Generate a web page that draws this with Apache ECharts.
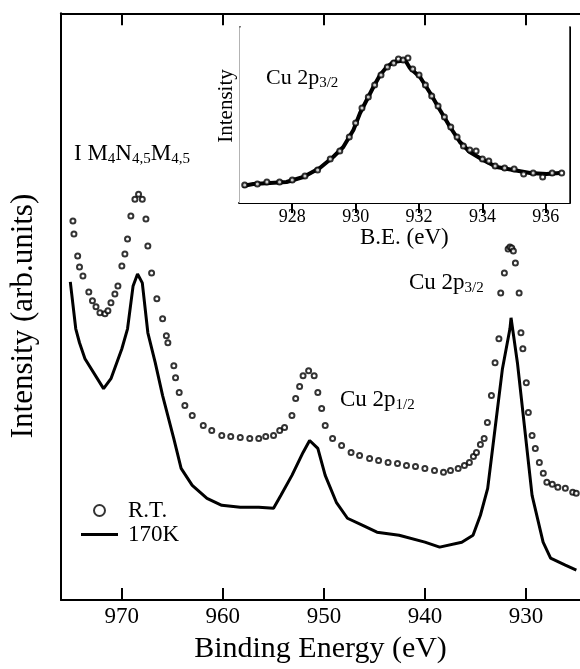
<!DOCTYPE html>
<html>
<head>
<meta charset="utf-8">
<script src="https://cdn.jsdelivr.net/npm/echarts@6/dist/echarts.min.js"></script>
<style>html,body{margin:0;padding:0;background:#fff}#c{width:580px;height:669px}</style>
</head>
<body>
<div id="c"></div>
<script>
// ---- Main panel data (Binding energy in eV, intensity in arb. units) ----
const energy170K = [975.08,974.54,974.17,973.63,971.79,971.06,969.98,969.42,968.87,968.43,967.96,967.41,966.68,965.95,964.85,964.12,963.02,961.56,960.10,958.27,956.44,954.98,954.25,953.16,952.06,951.41,950.60,949.87,948.77,947.67,946.21,944.75,942.56,940.01,938.55,936.36,935.25,934.52,933.80,933.07,932.34,931.60,931.49,930.86,930.14,929.41,928.32,927.58,926.12,925.03];
const intensity170K = [319,272,258,242,212,222,252,272,315,327,318,268,238,205,162,132,115,102,95,93,93,92,105,125,148,160,152,125,98,82,75,68,65,58,53,58,65,85,112,172,232,272,283,238,172,105,58,42,35,30];

const energyRT = [974.82,974.72,974.35,974.17,973.83,973.25,972.89,972.54,972.15,971.65,971.36,971.06,970.67,970.37,969.98,969.68,969.42,969.09,968.69,968.33,967.96,967.60,967.41,967.04,966.52,965.95,965.58,965.43,964.84,964.67,964.31,963.75,963.02,961.93,961.09,960.10,959.21,958.27,957.33,956.44,955.75,954.98,954.37,953.89,953.16,952.79,952.40,952.06,951.51,950.96,950.60,950.22,949.87,949.14,948.25,947.31,946.47,945.48,944.59,943.65,942.72,941.83,940.94,940.01,939.06,938.17,937.48,936.72,936.10,935.61,935.21,934.91,934.52,934.15,933.83,933.43,933.07,932.69,932.51,932.15,931.78,931.60,931.42,931.26,931.06,930.69,930.51,930.32,929.98,929.78,929.41,929.09,928.69,928.30,927.95,927.41,926.86,926.12,925.39,925.04];
const intensityRT = [380,367,345,334,325,309,300,294,288,287,290,298,307,315,335,347,362,385,402,407,402,382,355,328,302,282,265,258,235,223,208,195,185,175,170,165,164,163,162,162,164,165,170,173,185,202,214,225,230,225,208,192,175,162,155,148,145,142,140,138,137,135,134,132,130,128,130,132,135,138,144,148,156,162,178,205,238,262,308,328,352,354,353,350,338,308,268,252,218,188,165,152,138,127,118,116,113,112,108,107];

// ---- Inset data (Cu 2p3/2 region) ----
const insetEnergy170K = [926.44,926.77,927.30,927.82,928.35,928.87,929.29,929.61,929.93,930.14,930.35,930.56,930.77,930.98,931.19,931.40,931.56,931.71,932.03,932.35,932.66,932.98,933.29,933.60,934.02,934.45,934.97,935.50,936.02,936.44];
const insetIntensity170K = [17,19,20,21,26,35,46,56,73,90,103,116,128,136,141,142,143,135,126,110,93,76,61,51,43,36,33,30,29,30];
const insetEnergyRT = [926.5,926.9,927.2,927.6,928.0,928.4,928.8,929.2,929.5,929.8,930.0,930.2,930.4,930.6,930.8,931.0,931.2,931.35,931.5,931.65,931.8,932.0,932.2,932.4,932.6,932.8,933.0,933.2,933.4,933.6,933.8,934.0,934.2,934.4,934.7,935.0,935.3,935.6,935.9,936.2,936.5];
const insetIntensityRT = [18,19,21,21,23,27,33,44,52,66,80,95,106,118,128,136,140,144,143,145,134,128,118,107,97,86,76,66,57,53,52,44,42,37,35,34,29,30,26,30,30];

// ---- Tick labels ----
const mainTicks = [970,960,950,940,930];
const insetTicks = [928,930,932,934,936];
const insetYTicks = [58,126];

const zip = (a,b) => a.map((v,i)=>[v,b[i]]);
const FONT = '"Liberation Serif","Times New Roman",serif';

const chart = echarts.init(document.getElementById('c'), null, {renderer:'canvas'});
const axisLineStyle = {show:true, lineStyle:{color:'#000', width:2}};

chart.setOption({
  backgroundColor:'#fff',
  animation:false,
  textStyle:{fontFamily:FONT, color:'#000'},
  grid:[
    {left:61, top:13.3, right:0, bottom:67.3, containLabel:false},
    {left:239.3, top:27.3, width:330, height:175.7, show:true, backgroundColor:'#fff', borderWidth:0, z:5}
  ],
  legend:{
    left:76, top:494, orient:'vertical',
    itemWidth:37, itemHeight:11, itemGap:1,
    textStyle:{fontFamily:FONT, fontSize:23, color:'#000', padding:[0,0,0,5], lineHeight:22},
    data:[{name:'R.T.', icon:'emptyCircle'},
          {name:'170K', icon:'path://M0,0 L37,0 L37,3 L0,3 Z', itemStyle:{color:'#000'}}]
  },
  xAxis:[
    {gridIndex:0, type:'value', min:924.67, max:976, inverse:true, position:'bottom',
     axisLine:axisLineStyle, splitLine:{show:false},
     axisTick:{show:true, inside:true, length:12, customValues:mainTicks, lineStyle:{color:'#000',width:2}},
     axisLabel:{customValues:mainTicks, fontFamily:FONT, fontSize:23, color:'#000', margin:5},
     name:'Binding Energy (eV)', nameLocation:'middle', nameGap:34,
     nameTextStyle:{fontFamily:FONT, fontSize:30, color:'#000'}},
    {gridIndex:0, type:'value', min:924.67, max:976, inverse:true, position:'top',
     axisLine:axisLineStyle, splitLine:{show:false},
     axisTick:{show:true, inside:true, length:12, customValues:mainTicks, lineStyle:{color:'#000',width:2}},
     axisLabel:{show:false}},
    {gridIndex:1, type:'value', min:926.33, max:936.74, position:'bottom',
     axisLine:axisLineStyle, splitLine:{show:false},
     axisTick:{show:true, inside:true, length:10, customValues:insetTicks, lineStyle:{color:'#000',width:2}},
     axisLabel:{customValues:insetTicks, fontFamily:FONT, fontSize:18, color:'#000', margin:5},
     name:'B.E. (eV)', nameLocation:'middle', nameGap:20,
     nameTextStyle:{fontFamily:FONT, fontSize:23, color:'#000', verticalAlign:'top'}},
    {gridIndex:1, type:'value', min:926.33, max:936.74, position:'top',
     axisLine:axisLineStyle, splitLine:{show:false},
     axisTick:{show:true, inside:true, length:10, customValues:insetTicks, lineStyle:{color:'#000',width:2}},
     axisLabel:{show:false}}
  ],
  yAxis:[
    {gridIndex:0, type:'value', min:0, max:588.4, position:'left',
     axisLine:axisLineStyle, axisTick:{show:false}, axisLabel:{show:false}, splitLine:{show:false}},
    {gridIndex:1, type:'value', min:0, max:175.7, position:'left',
     axisLine:axisLineStyle, splitLine:{show:false},
     axisTick:{show:true, inside:true, length:5, customValues:insetYTicks, lineStyle:{color:'#000',width:1}},
     axisLabel:{show:false}},
    {gridIndex:1, type:'value', min:0, max:175.7, position:'right',
     axisLine:axisLineStyle, splitLine:{show:false},
     axisTick:{show:true, inside:true, length:5, customValues:insetYTicks, lineStyle:{color:'#000',width:1}},
     axisLabel:{show:false}}
  ],
  series:[
    {name:'R.T.', type:'scatter', xAxisIndex:0, yAxisIndex:0, data:zip(energyRT,intensityRT),
     symbol:'emptyCircle', symbolSize:5, itemStyle:{color:'#000', borderWidth:1}, z:3},
    {name:'170K', type:'line', xAxisIndex:0, yAxisIndex:0, data:zip(energy170K,intensity170K),
     showSymbol:false, symbol:'none', lineStyle:{color:'#000', width:3}, itemStyle:{color:'#000'}, z:2},
    {name:'170K', type:'line', xAxisIndex:2, yAxisIndex:1, data:zip(insetEnergy170K,insetIntensity170K),
     showSymbol:false, symbol:'none', lineStyle:{color:'#000', width:4}, itemStyle:{color:'#000'}, z:6},
    {name:'R.T.', type:'scatter', xAxisIndex:2, yAxisIndex:1, data:zip(insetEnergyRT,insetIntensityRT),
     symbol:'emptyCircle', symbolSize:5, itemStyle:{color:'#000', borderWidth:1}, z:7}
  ],
  graphic:[
    {type:'text', x:24, y:316, rotation:Math.PI/2, z:10,
     style:{text:'Intensity (arb.units)', font:'31px '+FONT, fill:'#000', align:'center', verticalAlign:'middle'}},
    {type:'text', x:226, y:106, rotation:Math.PI/2, z:10,
     style:{text:'Intensity', font:'21px '+FONT, fill:'#000', align:'center', verticalAlign:'middle'}},
    {type:'text', x:74, y:141, z:10,
     style:{text:'{m|I M}{s|4}{m|N}{s|4,5}{m|M}{s|4,5}', fill:'#000',
       rich:{m:{fontFamily:FONT, fontSize:23, lineHeight:26, fill:'#000'},
             s:{fontFamily:FONT, fontSize:15, lineHeight:16, verticalAlign:'bottom', fill:'#000'}}}},
    {type:'text', x:409, y:270, z:10,
     style:{text:'{m|Cu 2p}{s|3/2}', fill:'#000',
       rich:{m:{fontFamily:FONT, fontSize:23, lineHeight:26, fill:'#000'},
             s:{fontFamily:FONT, fontSize:15, lineHeight:16, verticalAlign:'bottom', fill:'#000'}}}},
    {type:'text', x:340, y:387, z:10,
     style:{text:'{m|Cu 2p}{s|1/2}', fill:'#000',
       rich:{m:{fontFamily:FONT, fontSize:23, lineHeight:26, fill:'#000'},
             s:{fontFamily:FONT, fontSize:15, lineHeight:16, verticalAlign:'bottom', fill:'#000'}}}},
    {type:'text', x:266, y:65, z:10,
     style:{text:'{m|Cu 2p}{s|3/2}', fill:'#000',
       rich:{m:{fontFamily:FONT, fontSize:22, lineHeight:26, fill:'#000'},
             s:{fontFamily:FONT, fontSize:15, lineHeight:16, verticalAlign:'bottom', fill:'#000'}}}}
  ]
});
</script>
</body>
</html>
